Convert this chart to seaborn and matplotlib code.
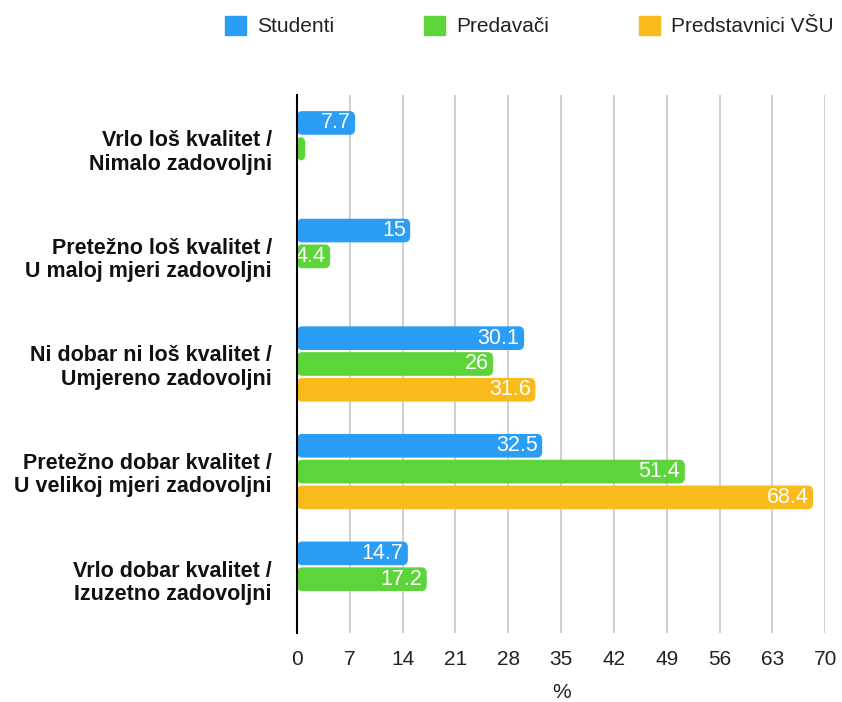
import numpy as np
import pandas as pd
import matplotlib.pyplot as plt
import seaborn as sns
from matplotlib.patches import FancyBboxPatch

# Podaci
categories = [
    "Vrlo loš kvalitet /\nNimalo zadovoljni",
    "Pretežno loš kvalitet /\nU maloj mjeri zadovoljni",
    "Ni dobar ni loš kvalitet /\nUmjereno zadovoljni",
    "Pretežno dobar kvalitet /\nU velikoj mjeri zadovoljni",
    "Vrlo dobar kvalitet /\nIzuzetno zadovoljni",
]
studenti = [7.7, 15, 30.1, 32.5, 14.7]
predavaci = [1.1, 4.4, 26, 51.4, 17.2]
predstavnici = [np.nan, np.nan, 31.6, 68.4, np.nan]
groups = ["Studenti", "Predavači", "Predstavnici VŠU"]
colors = ["#2B9DF5", "#5DD53A", "#F9BB1C"]
xticks = [0, 7, 14, 21, 28, 35, 42, 49, 56, 63, 70]

df = pd.DataFrame({"kategorija": categories, groups[0]: studenti,
                   groups[1]: predavaci, groups[2]: predstavnici})
df = df.melt(id_vars="kategorija", var_name="grupa", value_name="vrijednost")

sns.set_theme(style="white")
plt.rcParams["font.family"] = ["Liberation Sans", "DejaVu Sans"]

fig = plt.figure(figsize=(8.42, 7.02), dpi=100)
ax = fig.add_axes([0.3527, 0.0983, 0.6273, 0.7664])

sns.barplot(data=df, y="kategorija", x="vrijednost", hue="grupa",
            hue_order=groups, palette=colors, orient="h", width=0.72,
            saturation=1, ax=ax, legend=False)

# zaobljeni krajevi stupaca
for bar in list(ax.patches):
    w = bar.get_width()
    if np.isnan(w) or w <= 0:
        continue
    x0, y0, h = bar.get_x(), bar.get_y(), bar.get_height()
    gap = 0.01
    rnd = FancyBboxPatch((x0, y0 + gap), w, h - 2 * gap,
                         boxstyle="round,pad=0,rounding_size=0.7",
                         mutation_aspect=0.08,
                         facecolor=bar.get_facecolor(), edgecolor="none",
                         zorder=3)
    ax.add_patch(rnd)
    bar.set_visible(False)
    if w > 3:
        lbl = f"{w:g}"
        ax.text(x0 + w - 0.6, y0 + h / 2, lbl, ha="right", va="center",
                color="white", fontsize=15.5, zorder=4)

ax.set_xlim(0, 70)
ax.set_ylim(4.5, -0.5)
ax.set_xticks(xticks)
ax.set_xticklabels([str(t) for t in xticks], fontsize=15, color="#222222")
ax.tick_params(axis="x", length=6, width=1, color="#BBBBBB", pad=6)
ax.tick_params(axis="y", length=0, pad=18)
for lbl in ax.get_yticklabels():
    lbl.set_fontweight("bold")
    lbl.set_fontsize(15.5)
    lbl.set_horizontalalignment("right")
    lbl.set_color("#111111")
    lbl.set_linespacing(1.15)

ax.xaxis.grid(True, color="#C8C8C8", linewidth=1.2, zorder=0)
ax.set_axisbelow(True)
for side in ["top", "right", "bottom"]:
    ax.spines[side].set_visible(False)
ax.spines["left"].set_color("black")
ax.spines["left"].set_linewidth(1.5)
ax.spines["left"].set_zorder(5)

ax.set_ylabel("")
ax.set_xlabel("%", fontsize=15, labelpad=10, color="#222222")

handles = [plt.Rectangle((0, 0), 1, 1, color=c) for c in colors]
fig.legend(handles, groups, loc="upper left",
           bbox_to_anchor=(225 / 842, 1 - 16 / 702),
           ncol=3, frameon=False, fontsize=15, handlelength=1.0,
           handleheight=1.0, columnspacing=4.3, handletextpad=0.55,
           borderpad=0, borderaxespad=0, labelcolor="#222222")

plt.savefig("out.png", dpi=100)
plt.close()
